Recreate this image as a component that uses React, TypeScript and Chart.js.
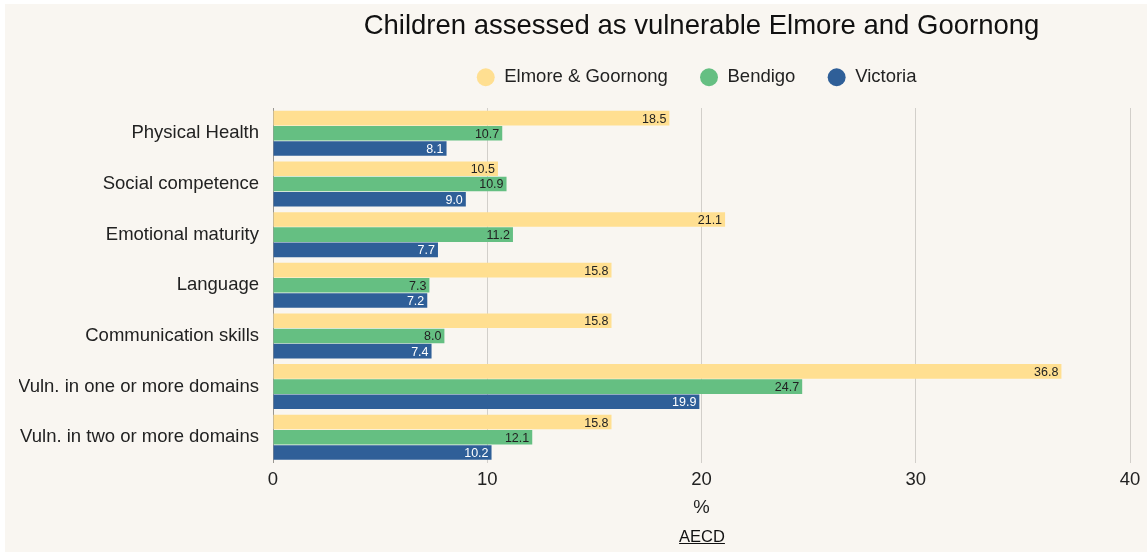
import React, { useEffect, useRef } from "react";
import { Chart, registerables } from "chart.js";

Chart.register(...registerables);

const categories = [
  "Physical Health",
  "Social competence",
  "Emotional maturity",
  "Language",
  "Communication skills",
  "Vuln. in one or more domains",
  "Vuln. in two or more domains",
];
const elmoreGoornong = [18.5, 10.5, 21.1, 15.8, 15.8, 36.8, 15.8];
const bendigo = [10.7, 10.9, 11.2, 7.3, 8.0, 24.7, 12.1];
const victoria = [8.1, 9.0, 7.7, 7.2, 7.4, 19.9, 10.2];
const seriesNames = ["Elmore & Goornong", "Bendigo", "Victoria"];
const xTicks = [0, 10, 20, 30, 40];

const FONT = "'Liberation Sans', Arial, Helvetica, sans-serif";
const BG = "#f9f6f1";
const COLORS = ["#ffdf91", "#65bf82", "#2f5f98"];
const LABEL_COLORS = ["#222222", "#222222", "#ffffff"];

const valueLabels = {
  id: "valueLabels",
  afterDatasetsDraw(chart: any) {
    const ctx = chart.ctx;
    ctx.save();
    ctx.font = `12.5px ${FONT}`;
    ctx.textAlign = "right";
    ctx.textBaseline = "middle";
    chart.data.datasets.forEach((ds: any, i: number) => {
      const meta = chart.getDatasetMeta(i);
      meta.data.forEach((bar: any, j: number) => {
        ctx.fillStyle = LABEL_COLORS[i];
        ctx.fillText(Number(ds.data[j]).toFixed(1), bar.x - 3, bar.y + 1);
      });
    });
    ctx.restore();
  },
};

const legendSpacing = {
  id: "legendSpacing",
  beforeInit(chart: any) {
    const legend = chart.legend;
    if (!legend) return;
    const orig = legend.fit;
    legend.fit = function () {
      orig.call(this);
      this.height = 59;
    };
  },
  afterLayout(chart: any) {
    const legend = chart.legend;
    if (!legend) return;
    legend.top -= 13;
    legend.bottom -= 13;
    legend.left -= 5;
    legend.right -= 5;
    if (legend.legendHitBoxes) {
      legend.legendHitBoxes.forEach((h: any) => {
        h.top -= 13;
        h.left -= 5;
      });
    }
  },
};

export default function App() {
  const ref = useRef<HTMLCanvasElement | null>(null);
  useEffect(() => {
    if (!ref.current) return;
    const chart = new Chart(ref.current, {
      type: "bar",
      data: {
        labels: categories,
        datasets: [elmoreGoornong, bendigo, victoria].map((d, i) => ({
          label: seriesNames[i],
          data: d,
          backgroundColor: COLORS[i],
          borderWidth: 0,
          categoryPercentage: 0.9,
          barPercentage: 0.96,
        })),
      },
      options: {
        indexAxis: "y",
        animation: false,
        responsive: false,
        maintainAspectRatio: false,
        layout: { padding: { left: 14, right: 17, top: 0, bottom: 33 } },
        scales: {
          x: {
            min: 0,
            max: 40,
            afterBuildTicks: (axis: any) => {
              axis.ticks = xTicks.map((v) => ({ value: v }));
            },
            grid: { color: "#d2cfca", drawTicks: false, lineWidth: 1 },
            border: { display: false },
            ticks: { color: "#222", font: { family: FONT, size: 18.5 }, padding: 6 },
            title: {
              display: true,
              text: "%",
              color: "#222",
              font: { family: FONT, size: 18.5 },
              padding: { top: 0, bottom: 0 },
            },
          },
          y: {
            afterFit: (axis: any) => {
              axis.width = 254;
            },
            grid: { display: false, drawTicks: false },
            border: { display: true, color: "#9a9792", width: 1 },
            ticks: { color: "#222", font: { family: FONT, size: 18.5 }, padding: 14 },
          },
        },
        plugins: {
          title: {
            display: true,
            fullSize: false,
            text: "Children assessed as vulnerable Elmore and Goornong",
            color: "#111",
            font: { family: FONT, size: 27.5, weight: "normal" },
            padding: { top: 6, bottom: 6 },
          },
          legend: {
            display: true,
            fullSize: false,
            labels: {
              usePointStyle: true,
              pointStyle: "circle",
              boxHeight: 12.7,
              color: "#222",
              font: { family: FONT, size: 18.5 },
              padding: 32,
            },
          },
          tooltip: { enabled: false },
        },
      },
      plugins: [valueLabels, legendSpacing],
    } as any);
    return () => chart.destroy();
  }, []);

  return (
    <div
      style={{
        position: "absolute",
        left: 5,
        top: 4,
        width: 1142,
        height: 548,
        background: BG,
        fontFamily: FONT,
      }}
    >
      <canvas ref={ref} width={1142} height={548} style={{ display: "block" }} />
      <a
        href="#"
        style={{
          position: "absolute",
          left: 697 - 60,
          width: 120,
          textAlign: "center",
          top: 523,
          fontSize: 16.5,
          color: "#111",
          textDecoration: "underline",
        }}
      >
        AECD
      </a>
    </div>
  );
}
